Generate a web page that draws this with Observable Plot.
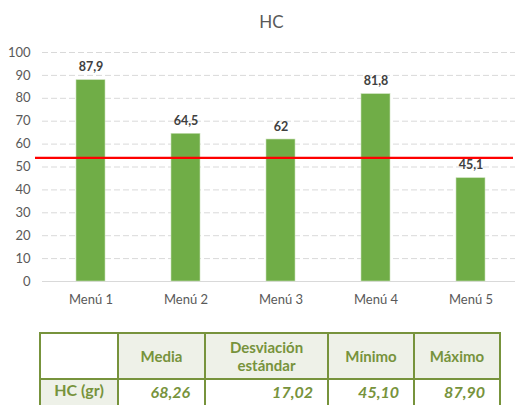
<!DOCTYPE html>
<html>
<head>
<meta charset="utf-8">
<script src="https://cdn.jsdelivr.net/npm/d3@7"></script>
<script src="https://cdn.jsdelivr.net/npm/@observablehq/plot@0.6"></script>
<style>
  html, body { margin: 0; padding: 0; background: #fff; width: 521px; height: 405px; overflow: hidden; font-family: Lato, "Open Sans", sans-serif; }
  #title { height: 40px; line-height: 44px; text-align: center; font-size: 17px; color: #595959; padding-left: 22px; box-sizing: border-box; }
  #chart { height: 275px; }
  #chart svg { display: block; }
  table { position: absolute; left: 39px; top: 332px; border-collapse: collapse; table-layout: fixed; color: #77933C; }
  td { border: 2.5px solid #77933C; padding: 0; font-weight: bold; box-sizing: border-box; }
  tr.head td { height: 46px; background: #EEF1E8; text-align: center; font-size: 15px; line-height: 18px; }
  tr.head td.blank { background: #fff; }
  tr.data td { height: 30px; font-size: 16px; font-style: italic; text-align: right; padding-right: 14px; vertical-align: top; padding-top: 2px; }
  tr.data td.rowhead { background: #EEF1E8; font-style: normal; text-align: center; padding-right: 0; padding-top: 0; }
</style>
</head>
<body>
<div id="title">HC</div>
<div id="chart"></div>
<table id="stats"></table>
<script>
const menus = ["Menú 1", "Menú 2", "Menú 3", "Menú 4", "Menú 5"];
const hc = [87.9, 64.5, 62, 81.8, 45.1];
const referencia = [54];
const yTicks = [0, 10, 20, 30, 40, 50, 60, 70, 80, 90, 100];

const statHeaders = ["Media", "Desviación<br>estándar", "Mínimo", "Máximo"];
const statRowLabel = "HC (gr)";
const statValues = ["68,26", "17,02", "45,10", "87,90"];
const colWidths = [78, 87, 123, 86, 86];

const data = menus.map((m, i) => ({menu: m, value: hc[i]}));
const fmt = v => String(v).replace(".", ",");

const plot = Plot.plot({
  width: 521,
  height: 275,
  marginTop: 12,
  marginBottom: 34,
  marginLeft: 42,
  marginRight: 3,
  style: {fontFamily: "Lato, 'Open Sans', sans-serif", background: "#fff"},
  x: {domain: menus, paddingInner: 0.7, paddingOuter: 0.35, label: null},
  y: {domain: [0, 100], label: null},
  marks: [
    Plot.gridY(yTicks, {stroke: "#D9D9D9", strokeOpacity: 1, strokeDasharray: "6,3", strokeWidth: 1, insetRight: 3}),
    Plot.ruleY([0], {stroke: "#D9D9D9", strokeWidth: 1, insetRight: 3}),
    Plot.barY(data, {x: "menu", y: "value", fill: "#70AD47", stroke: "#C9E0B8", strokeWidth: 0.6}),
    Plot.text(data, {x: "menu", y: "value", text: d => fmt(d.value), lineAnchor: "bottom", dy: -9, fontSize: 12.5, fontWeight: "bold", fill: "#404040"}),
    Plot.ruleY(referencia, {stroke: "#FF0000", strokeWidth: 2.2, insetLeft: -7, insetRight: 5}),
    Plot.axisY(yTicks, {tickSize: 0, tickPadding: 12, fontSize: 13, fill: "#595959", label: null}),
    Plot.axisX({tickSize: 0, tickPadding: 13, fontSize: 13, fill: "#595959", label: null})
  ]
});
document.getElementById("chart").appendChild(plot);

const table = document.getElementById("stats");
const colgroup = document.createElement("colgroup");
colWidths.forEach(w => { const c = document.createElement("col"); c.style.width = w + "px"; colgroup.appendChild(c); });
table.appendChild(colgroup);
const hr = document.createElement("tr");
hr.className = "head";
const blank = document.createElement("td"); blank.className = "blank"; hr.appendChild(blank);
statHeaders.forEach(h => { const td = document.createElement("td"); td.innerHTML = h; hr.appendChild(td); });
table.appendChild(hr);
const dr = document.createElement("tr");
dr.className = "data";
const rh = document.createElement("td"); rh.className = "rowhead"; rh.textContent = statRowLabel; dr.appendChild(rh);
statValues.forEach(v => { const td = document.createElement("td"); td.textContent = v; dr.appendChild(td); });
table.appendChild(dr);
</script>
</body>
</html>
